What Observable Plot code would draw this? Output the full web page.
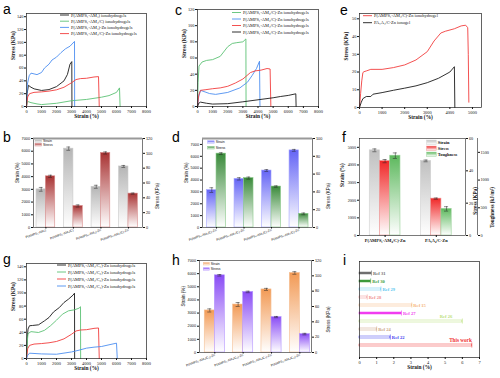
<!DOCTYPE html>
<html><head><meta charset="utf-8">
<script src="https://cdn.jsdelivr.net/npm/d3@7"></script>
<script src="https://cdn.jsdelivr.net/npm/@observablehq/plot@0.6"></script>
<style>
body{margin:0;background:#fff;}
#fig{position:relative;width:500px;height:378px;overflow:hidden;background:#fff;}
</style></head><body><div id="fig"></div><script>
// ---------- DATA ----------
// a: stress-strain curves [strain %, stress kPa]
const aNames = ["P(AMPS₁-AM₄) ionohydrogels","P(AMPS₁-AM₄/C) ionohydrogels","P(AMPS₁-AM₄)-Zn ionohydrogels","P(AMPS₁-AM₄/C)-Zn ionohydrogels"];
const aBlack = [[0,0],[40,20],[130,33],[300,30],[510,27.5],[1000,25],[1500,26.4],[2000,31],[2500,40],[2730,50],[2900,66],[3020,70],[3030,0]];
const aGreen = [[0,0],[60,8],[300,6],[700,4],[1000,3],[2000,5],[3000,9],[4000,11],[5000,14.5],[5500,17],[6000,22],[6200,29],[6240,0]];
const aBlue = [[0,0],[60,35],[180,48],[300,52],[700,49.7],[1000,53],[1200,60],[1500,66],[1700,72.5],[2000,77],[2300,84],[2600,90],[2900,94],[3100,99],[3200,101.5],[3210,0]];
const aRed = [[0,0],[80,15],[200,20],[500,22],[1000,22.8],[1500,24],[2000,26],[2500,30],[3000,37],[3300,42],[3600,43.5],[4000,44],[4500,46],[4800,46.6],[4850,0]];
const aXTicks = [0,1000,2000,3000,4000,5000,6000,7000,8000];
const aYTicks = [0,20,40,60,80,100,120,140];
// c
const cNames = ["P(AMPS₁-AM₂/C)-Zn ionohydrogels","P(AMPS₁-AM₃/C)-Zn ionohydrogels","P(AMPS₁-AM₄/C)-Zn ionohydrogels","P(AMPS₁-AM₅/C)-Zn ionohydrogels"];
const cGreen = [[0,0],[40,30],[100,50],[300,55],[600,57],[1000,58],[1500,62],[2000,74],[2300,78],[2600,79],[3000,80],[3200,83.6],[3210,0]];
const cBlue = [[0,0],[80,12],[200,20],[500,18],[800,16],[1200,15],[2000,17.4],[2800,23],[3300,30],[3600,38],[3900,47],[4100,56],[4130,0]];
const cRed = [[0,0],[80,14],[200,20],[500,20.7],[1000,22],[1500,23],[2000,25],[2500,29],[3000,34],[3500,42],[3800,44],[4200,45],[4600,47],[4800,46.4],[4850,0]];
const cBlack = [[0,0],[80,4],[200,5.4],[600,4],[1000,3],[2000,3.5],[3000,5.8],[4000,8.3],[5000,10.8],[5500,12.4],[6000,13.7],[6500,15.7],[6520,0]];
const cYTicks = [0,20,40,60,80,100,120];
// e
const eNames = ["P(AMPS₁-AM₄/C)-Zn ionohydrogel","PA₁A₄/C-Zn ionogel"];
const eRed = [[0,0],[50,8],[100,15],[150,19.7],[200,20.2],[300,20.6],[500,21.5],[1000,21.5],[1500,22.5],[2000,24],[2500,26.8],[3000,31.5],[3300,37.5],[3600,42],[3800,43],[4200,44.4],[4500,46],[4700,46.4],[4790,45],[4815,30],[4840,3]];
const eBlack = [[0,0],[80,3],[150,5],[300,6.2],[500,6.2],[600,7.5],[1000,8.4],[1500,9.7],[2000,10.9],[2500,12.2],[3000,14],[3500,16.5],[4000,20],[4200,23],[4220,0]];
const eXTicks = [0,1000,2000,3000,4000,5000];
const eYTicks = [0,10,20,30,40,50];
// g
const gNames = ["P(AMPS₁-AM₄/C₁)-Zn ionohydrogels","P(AMPS₁-AM₄/C₂)-Zn ionohydrogels","P(AMPS₁-AM₄/C₃)-Zn ionohydrogels","P(AMPS₁-AM₄/C₄)-Zn ionohydrogels"];
const gBlack = [[0,0],[50,30],[100,45],[200,50],[400,50.4],[800,51.4],[1200,57.5],[1500,62.6],[1800,71],[2200,78],[2500,85.5],[2800,90.6],[3100,96.7],[3200,99.7],[3210,0]];
const gGreen = [[0,0],[50,25],[100,38],[300,41],[800,39.7],[1200,43],[1600,50],[2000,58.5],[2400,67.7],[2800,72.8],[3200,74.3],[3500,76.8],[3600,79],[3610,0]];
const gRed = [[0,0],[80,15],[200,20],[500,22],[1000,22.8],[1500,24],[2000,26],[2500,30],[3000,37],[3300,42],[3600,43.5],[4000,44],[4500,46],[4800,46.6],[4850,0]];
const gBlue = [[0,0],[80,5],[200,8.1],[1000,7],[2000,6.5],[3000,10],[3500,12.7],[4000,15.8],[4500,17.3],[5000,18.3],[5500,20.9],[6000,23.4],[6050,0]];
// b
const bCats = ["P(AMPS₁-AM₄)","P(AMPS₁-AM₄/C)","P(AMPS₁-AM₄)-Zn","P(AMPS₁-AM₄/C)-Zn"];
const bStrain = [3000, 6200, 3200, 4800];
const bStrainErr = [150, 130, 120, 80];
const bStress = [69, 29, 100.5, 45.7];
const bStressErr = [1.5, 1.5, 1.5, 0.8];
const bLeftTicks = [0,1000,2000,3000,4000,5000,6000,7000];
const bRightTicks = [0,20,40,60,80,100,120];
// d
const dCats = ["P(AMPS₁-AM₂/C)-Zn","P(AMPS₁-AM₃/C)-Zn","P(AMPS₁-AM₄/C)-Zn","P(AMPS₁-AM₅/C)-Zn"];
const dStrain = [3150, 4100, 4800, 6500];
const dStrainErr = [200, 100, 80, 80];
const dStress = [83, 55.5, 46, 15.3];
const dStressErr = [1, 1.2, 0.8, 1];
const dLeftTicks = [0,1000,2000,3000,4000,5000,6000,7000];
const dRightTicks = [0,20,40,60,80,100];
// f
const fCats = ["P(AMPS₁-AM₄/C)-Zn","PA₁A₄/C-Zn"];
const fStrain = [4830, 4230];
const fStrainErr = [80, 50];
const fStress = [46, 22.8];
const fStressErr = [1, 0.4];
const fTough = [1440, 480];
const fToughErr = [50, 40];
const fLeftTicks = [0,1000,2000,3000,4000,5000];
const fStressTicks = [0,20,40,60];
const fToughTicks = [0,500,1000,1500];
// h
const hCats = ["P(AMPS₁-AM₄/C₁)-Zn","P(AMPS₁-AM₄/C₂)-Zn","P(AMPS₁-AM₄/C₃)-Zn","P(AMPS₁-AM₄/C₄)-Zn"];
const hStrain = [3200, 3650, 4800, 6050];
const hStrainErr = [120, 150, 80, 100];
const hStress = [100.7, 79, 46.2, 24];
const hStressErr = [1, 1, 0.8, 1];
// i
const iRefs = ["Ref 31","Ref 30","Ref 29","Ref 28","Ref 15","Ref 27","Ref 26","Ref 24","Ref 22","This work"];
const iStrain = [0.7, 0.65, 1.25, 0.45, 3.05, 2.45, 6.0, 1.0, 1.8, 6.55];
const iXTicks = [0,1,2,3,4,5,6,7];

// ---------- STYLE ----------
const SERIF = "'Liberation Serif','Times New Roman',serif";
const SANS = "'Liberation Sans',Arial,sans-serif";
const K = "#1a1a1a", GR = "#5cc275", BL = "#4d8ef0", RD = "#f23d3d";
const iColors = ["#6f6f6f","#3c9a3c","#5cc8f0","#f09090","#f5b377","#f03cf0","#b9e07a","#c9a07f","#3c3cf0","#f03030"];
const iFill = ["#6f6f6f","#3c9a3c","#fff","#fff","#fff","#f03cf0","#fff","#fff","#fff","#fff"];
const grads = {
  gb:["#b5b5b5"], rb:["#a83232"], bd:["#6464f5"], gd:["#3a8a3a"],
  gf:["#c0c0c0"], rf:["#f02828"], tf:["#5cb85c"], oh:["#f29a55"], ph:["#8a4cf5"]
};
const num = d => String(d);

const fig = document.getElementById("fig");
const ann = d3.select(fig).append("svg").attr("width",500).attr("height",378)
  .style("position","absolute").style("left","0px").style("top","0px").style("z-index",10).style("pointer-events","none");
const defs = ann.append("defs");
for (const [id,[c]] of Object.entries(grads)) {
  const g = defs.append("linearGradient").attr("id",id).attr("x1",0).attr("y1",0).attr("x2",0).attr("y2",1);
  g.append("stop").attr("offset","0%").attr("stop-color",c);
  g.append("stop").attr("offset","100%").attr("stop-color","#fff");
}
function place(svg, left, top) {
  svg.style.position = "absolute"; svg.style.left = left + "px"; svg.style.top = top + "px";
  fig.appendChild(svg);
}

function curvePanel(o) {
  const svg = Plot.plot({
    width:o.w, height:o.h, marginTop:o.m[0], marginRight:o.m[1], marginBottom:o.m[2], marginLeft:o.m[3],
    style:{fontFamily:SERIF, fontSize:"4.4px", background:"transparent", overflow:"visible", color:"#111"},
    x:{domain:o.xDomain, axis:null}, y:{domain:o.yDomain, axis:null},
    marks:[
      Plot.axisX({ticks:o.xTicks, tickFormat:num, tickSize:2, tickPadding:1, label:null}),
      Plot.axisY({ticks:o.yTicks, tickFormat:num, tickSize:2, tickPadding:1, label:null}),
      ...o.series.map((s,i)=>Plot.line(s,{x:d=>d[0], y:d=>d[1], stroke:o.colors[i], strokeWidth:0.9})),
      Plot.frame({stroke:"#222", strokeWidth:0.7}),
      Plot.text(["Strain (%)"],{text:d=>d, frameAnchor:"bottom", dy:11, fontWeight:"bold", fontSize:5.4}),
      Plot.text(["Stress (KPa)"],{text:d=>d, frameAnchor:"left", dx:-13, rotate:-90, fontWeight:"bold", fontSize:5.4})
    ]
  });
  place(svg, o.left, o.top);
}

function barPanel(o) {
  const n = o.series.length;
  const marks = [];
  o.series.forEach((s,j)=>{
    const f = s.scale || 1;
    const rows = s.values.map((v,i)=>({i, v:v*f, e:s.err[i]*f}));
    const off = (j - n/2) * o.W;
    marks.push(Plot.rectY(rows,{x1:d=>d.i+off, x2:d=>d.i+off+o.W, y1:0, y2:"v", fill:`url(#${s.grad})`, stroke:s.stroke, strokeWidth:0.6}));
    marks.push(Plot.ruleX(rows,{x:d=>d.i+off+o.W/2, y1:d=>d.v-d.e, y2:d=>d.v+d.e, stroke:"#222", strokeWidth:0.5}));
    marks.push(Plot.ruleY(rows,{y:d=>d.v+d.e, x1:d=>d.i+off+o.W*0.3, x2:d=>d.i+off+o.W*0.7, stroke:"#222", strokeWidth:0.5}));
    marks.push(Plot.ruleY(rows,{y:d=>d.v-d.e, x1:d=>d.i+off+o.W*0.3, x2:d=>d.i+off+o.W*0.7, stroke:"#222", strokeWidth:0.5}));
  });
  const k = o.k;
  const svg = Plot.plot({
    width:o.w, height:o.h, marginTop:o.m[0], marginRight:o.m[1], marginBottom:o.m[2], marginLeft:o.m[3],
    style:{fontFamily:o.font, fontSize:o.fs+"px", background:"transparent", overflow:"visible", color:"#111"},
    x:{domain:o.xDomain, axis:null}, y:{domain:o.yDomain, axis:null},
    marks:[
      ...marks,
      Plot.frame({stroke:"#222", strokeWidth:0.6}),
      o.topBar ? Plot.ruleY([o.yDomain[1]],{stroke:"#999", strokeWidth:2}) : null,
      Plot.axisY({ticks:o.leftTicks, tickFormat:num, tickSize:2, tickPadding:1.5, label:null}),
      Plot.axisY({anchor:"right", ticks:o.rightTicks.map(v=>v*k), tickFormat:d=>String(Math.round(d/k)), tickSize:2, tickPadding:1.5, label:null}),
      o.rotate
        ? Plot.axisX({ticks:o.cats.map((c,i)=>i), tickFormat:i=>o.cats[i], tickRotate:-20, textAnchor:"end", tickSize:1.5, tickPadding:1, fontSize:o.catFs, label:null})
        : Plot.axisX({ticks:o.cats.map((c,i)=>i), tickFormat:i=>o.cats[i], tickSize:2, tickPadding:1.5, fontSize:o.catFs, fontWeight:"bold", label:null}),
      Plot.text([o.leftTitle],{text:d=>d, frameAnchor:"left", dx:o.ldx, rotate:-90, fontWeight:o.tw, fontSize:o.tfs}),
      Plot.text([o.rightTitle],{text:d=>d, frameAnchor:"right", dx:o.rdx, rotate:-90, fontWeight:o.tw, fontSize:o.tfs})
    ].filter(Boolean)
  });
  place(svg, o.left, o.top);
}

// ---- a
curvePanel({left:0, top:0, w:165, h:125, m:[13,19,19,26], xDomain:[0,8000], yDomain:[0,145], xTicks:aXTicks, yTicks:aYTicks,
  series:[aBlack,aGreen,aBlue,aRed], colors:[K,GR,BL,RD]});
// ---- c
curvePanel({left:165, top:0, w:165, h:125, m:[9,12,19,32], xDomain:[0,8000], yDomain:[0,120], xTicks:aXTicks, yTicks:cYTicks,
  series:[cGreen,cBlue,cRed,cBlack], colors:[GR,BL,RD,K]});
// ---- e
curvePanel({left:330, top:0, w:170, h:125, m:[13,19,18,29], xDomain:[0,5400], yDomain:[0,53], xTicks:eXTicks, yTicks:eYTicks,
  series:[eRed,eBlack], colors:[RD,K]});
// ---- g
curvePanel({left:0, top:250, w:165, h:128, m:[13,19,20,26], xDomain:[0,8000], yDomain:[0,145], xTicks:aXTicks, yTicks:aYTicks,
  series:[gBlack,gGreen,gRed,gBlue], colors:[K,GR,RD,BL]});

// ---- b
barPanel({left:0, top:125, w:165, h:125, m:[13,23,23,33], xDomain:[-0.45,3.51], yDomain:[0,7000], k:7000/120, W:0.34,
  cats:bCats, rotate:true, topBar:true, font:SANS, fs:3.8, catFs:3.2, leftTicks:bLeftTicks, rightTicks:bRightTicks,
  leftTitle:"Strain (%)", rightTitle:"Stress (KPa)", ldx:-16, rdx:15, tw:"normal", tfs:4.6,
  series:[{values:bStrain, err:bStrainErr, grad:"gb", stroke:"#c9c9c9"},
          {values:bStress, err:bStressErr, grad:"rb", stroke:"#d88a8a", scale:7000/120}]});
// ---- d
barPanel({left:165, top:125, w:165, h:125, m:[13,18,23,37], xDomain:[-0.51,3.49], yDomain:[0,7500], k:7500/100, W:0.345,
  cats:dCats, rotate:true, topBar:true, font:SANS, fs:3.8, catFs:3.2, leftTicks:dLeftTicks, rightTicks:dRightTicks,
  leftTitle:"Strain (%)", rightTitle:"Stress (KPa)", ldx:-16, rdx:16, tw:"normal", tfs:4.6,
  series:[{values:dStrain, err:dStrainErr, grad:"bd", stroke:"#a8a8ff"},
          {values:dStress, err:dStressErr, grad:"gd", stroke:"#88c888", scale:7500/100}]});
// ---- h
barPanel({left:165, top:250, w:165, h:128, m:[10,19,26,34], xDomain:[-0.54,3.41], yDomain:[0,7000], k:7000/120, W:0.355,
  cats:hCats, rotate:true, topBar:false, font:SANS, fs:3.8, catFs:3.2, leftTicks:bLeftTicks, rightTicks:bRightTicks,
  leftTitle:"Strain (%)", rightTitle:"Stress (KPa)", ldx:-16, rdx:17, tw:"normal", tfs:4.6,
  series:[{values:hStrain, err:hStrainErr, grad:"oh", stroke:"#f5c095"},
          {values:hStress, err:hStressErr, grad:"ph", stroke:"#b596ff", scale:7000/120}]});
// ---- f
barPanel({left:330, top:125, w:170, h:125, m:[13,35,15,29], xDomain:[-0.5,1.57], yDomain:[0,5500], k:5500/60, W:0.2,
  cats:fCats, rotate:false, topBar:false, font:SERIF, fs:4.2, catFs:4.4, leftTicks:fLeftTicks, rightTicks:fStressTicks,
  leftTitle:"Strain (%)", rightTitle:"Stress (KPa)", ldx:-17, rdx:10, tw:"bold", tfs:5.2,
  series:[{values:fStrain, err:fStrainErr, grad:"gf", stroke:"#d0d0d0"},
          {values:fStress, err:fStressErr, grad:"rf", stroke:"#f09090", scale:5500/60},
          {values:fTough, err:fToughErr, grad:"tf", stroke:"#98d098", scale:5500/1750}]});
place(Plot.plot({width:170, height:125, marginTop:13, marginBottom:15, marginLeft:146, marginRight:23,
  style:{fontFamily:SERIF, fontSize:"4.2px", background:"transparent", overflow:"visible", color:"#111"},
  x:{domain:[0,1], axis:null}, y:{domain:[0,1750], axis:null},
  marks:[Plot.ruleX([1],{stroke:"#222", strokeWidth:0.6}),
    Plot.axisY({anchor:"right", ticks:fToughTicks, tickFormat:num, tickSize:2, tickPadding:1, label:null}),
    Plot.text(["Toughness (kJ/m³)"],{text:d=>d, frameAnchor:"right", dx:15, rotate:-90, fontWeight:"bold", fontSize:5.2})]}), 330, 125);

// ---- i
const iRows = iRefs.map((r,i)=>({r, v:iStrain[i], c:iColors[i], f:iFill[i]}));
place(Plot.plot({width:170, height:128, marginTop:11, marginRight:21, marginBottom:21, marginLeft:29,
  style:{fontFamily:SERIF, fontSize:"4.4px", background:"transparent", overflow:"visible", color:"#111"},
  x:{domain:[0,7], axis:null}, y:{type:"band", domain:iRefs, paddingInner:0.8, paddingOuter:0.88, axis:null},
  marks:[
    Plot.barX(iRows,{x1:0, x2:"v", y:"r", fill:"f", stroke:"c", strokeWidth:0.5}),
    Plot.tickX(iRows,{x:"v", y:"r", stroke:"c", strokeWidth:0.6, insetTop:-1.5, insetBottom:-1.5}),
    Plot.text(iRows.filter(d=>d.v<5.5),{x:"v", y:"r", text:"r", fill:"c", dx:1.5, textAnchor:"start", fontWeight:"bold", fontSize:4.6}),
    Plot.text(iRows.filter(d=>d.r==="Ref 26"),{x:"v", y:"r", text:"r", fill:"c", dx:-10, dy:-4.5, textAnchor:"end", fontWeight:"bold", fontSize:4.6}),
    Plot.text(iRows.filter(d=>d.r==="This work"),{x:"v", y:"r", text:"r", fill:"c", dy:-5, textAnchor:"end", fontWeight:"bold", fontSize:5.2}),
    Plot.frame({stroke:"#222", strokeWidth:0.7}),
    Plot.axisX({ticks:iXTicks, tickFormat:num, tickSize:2, tickPadding:1, label:null}),
    Plot.text(["Strain (%)"],{text:d=>d, frameAnchor:"bottom", dy:11, fontWeight:"bold", fontSize:5.4})
  ]}), 330, 250);

// ---------- LEGENDS & LETTERS (overlay) ----------
function lineLegend(x, y, step, names, colors) {
  names.forEach((t,i)=>{
    const yy = y + i*step;
    ann.append("line").attr("x1",x).attr("x2",x+9).attr("y1",yy).attr("y2",yy).attr("stroke",colors[i]).attr("stroke-width",0.9);
    ann.append("text").attr("x",x+11).attr("y",yy).attr("dy","0.35em").attr("font-family",SERIF).attr("font-size",4.4).attr("fill","#111").text(t);
  });
}
function boxLegend(x, y, step, w, h, names, gradsIds, strokes, font, fs, bold) {
  names.forEach((t,i)=>{
    const yy = y + i*step;
    ann.append("rect").attr("x",x).attr("y",yy-h/2).attr("width",w).attr("height",h).attr("fill",`url(#${gradsIds[i]})`).attr("stroke",strokes[i]).attr("stroke-width",0.5);
    ann.append("text").attr("x",x+w+1.5).attr("y",yy).attr("dy","0.35em").attr("font-family",font).attr("font-size",fs)
      .attr("font-weight",bold?"bold":"normal").attr("fill","#111").text(t);
  });
}
lineLegend(60, 15, 6.2, aNames, [K,GR,BL,RD]);
lineLegend(232, 12.5, 6.5, cNames, [GR,BL,RD,K]);
lineLegend(363, 15.7, 7, eNames, [RD,K]);
lineLegend(57, 265, 7, gNames, [K,GR,RD,BL]);
boxLegend(35, 141.2, 3.6, 6.5, 2.4, ["Strain","Stress"], ["gb","rb"], ["#c9c9c9","#d88a8a"], SANS, 3.4);
boxLegend(207.7, 142, 5.8, 6.5, 2.4, ["Strain","Stress"], ["bd","gd"], ["#a8a8ff","#88c888"], SANS, 3.4);
boxLegend(203.3, 263.8, 5.2, 6, 2.4, ["Strain","Stress"], ["oh","ph"], ["#f5c095","#b596ff"], SANS, 3.4);
boxLegend(426.7, 142.2, 6, 9.5, 4.2, ["Strain","Stress","Toughness"], ["gf","rf","tf"], ["#d0d0d0","#f09090","#98d098"], SERIF, 4.4, true);
const letters = [["a",3,14],["c",175,15],["e",340,15],["b",3,142],["d",172,142],["f",342,142],["g",3,264],["h",172,265],["i",343,265]];
letters.forEach(([t,x,y])=>ann.append("text").attr("x",x).attr("y",y).attr("font-family",SANS).attr("font-size",14).attr("fill","#000").text(t));
</script></body></html>
